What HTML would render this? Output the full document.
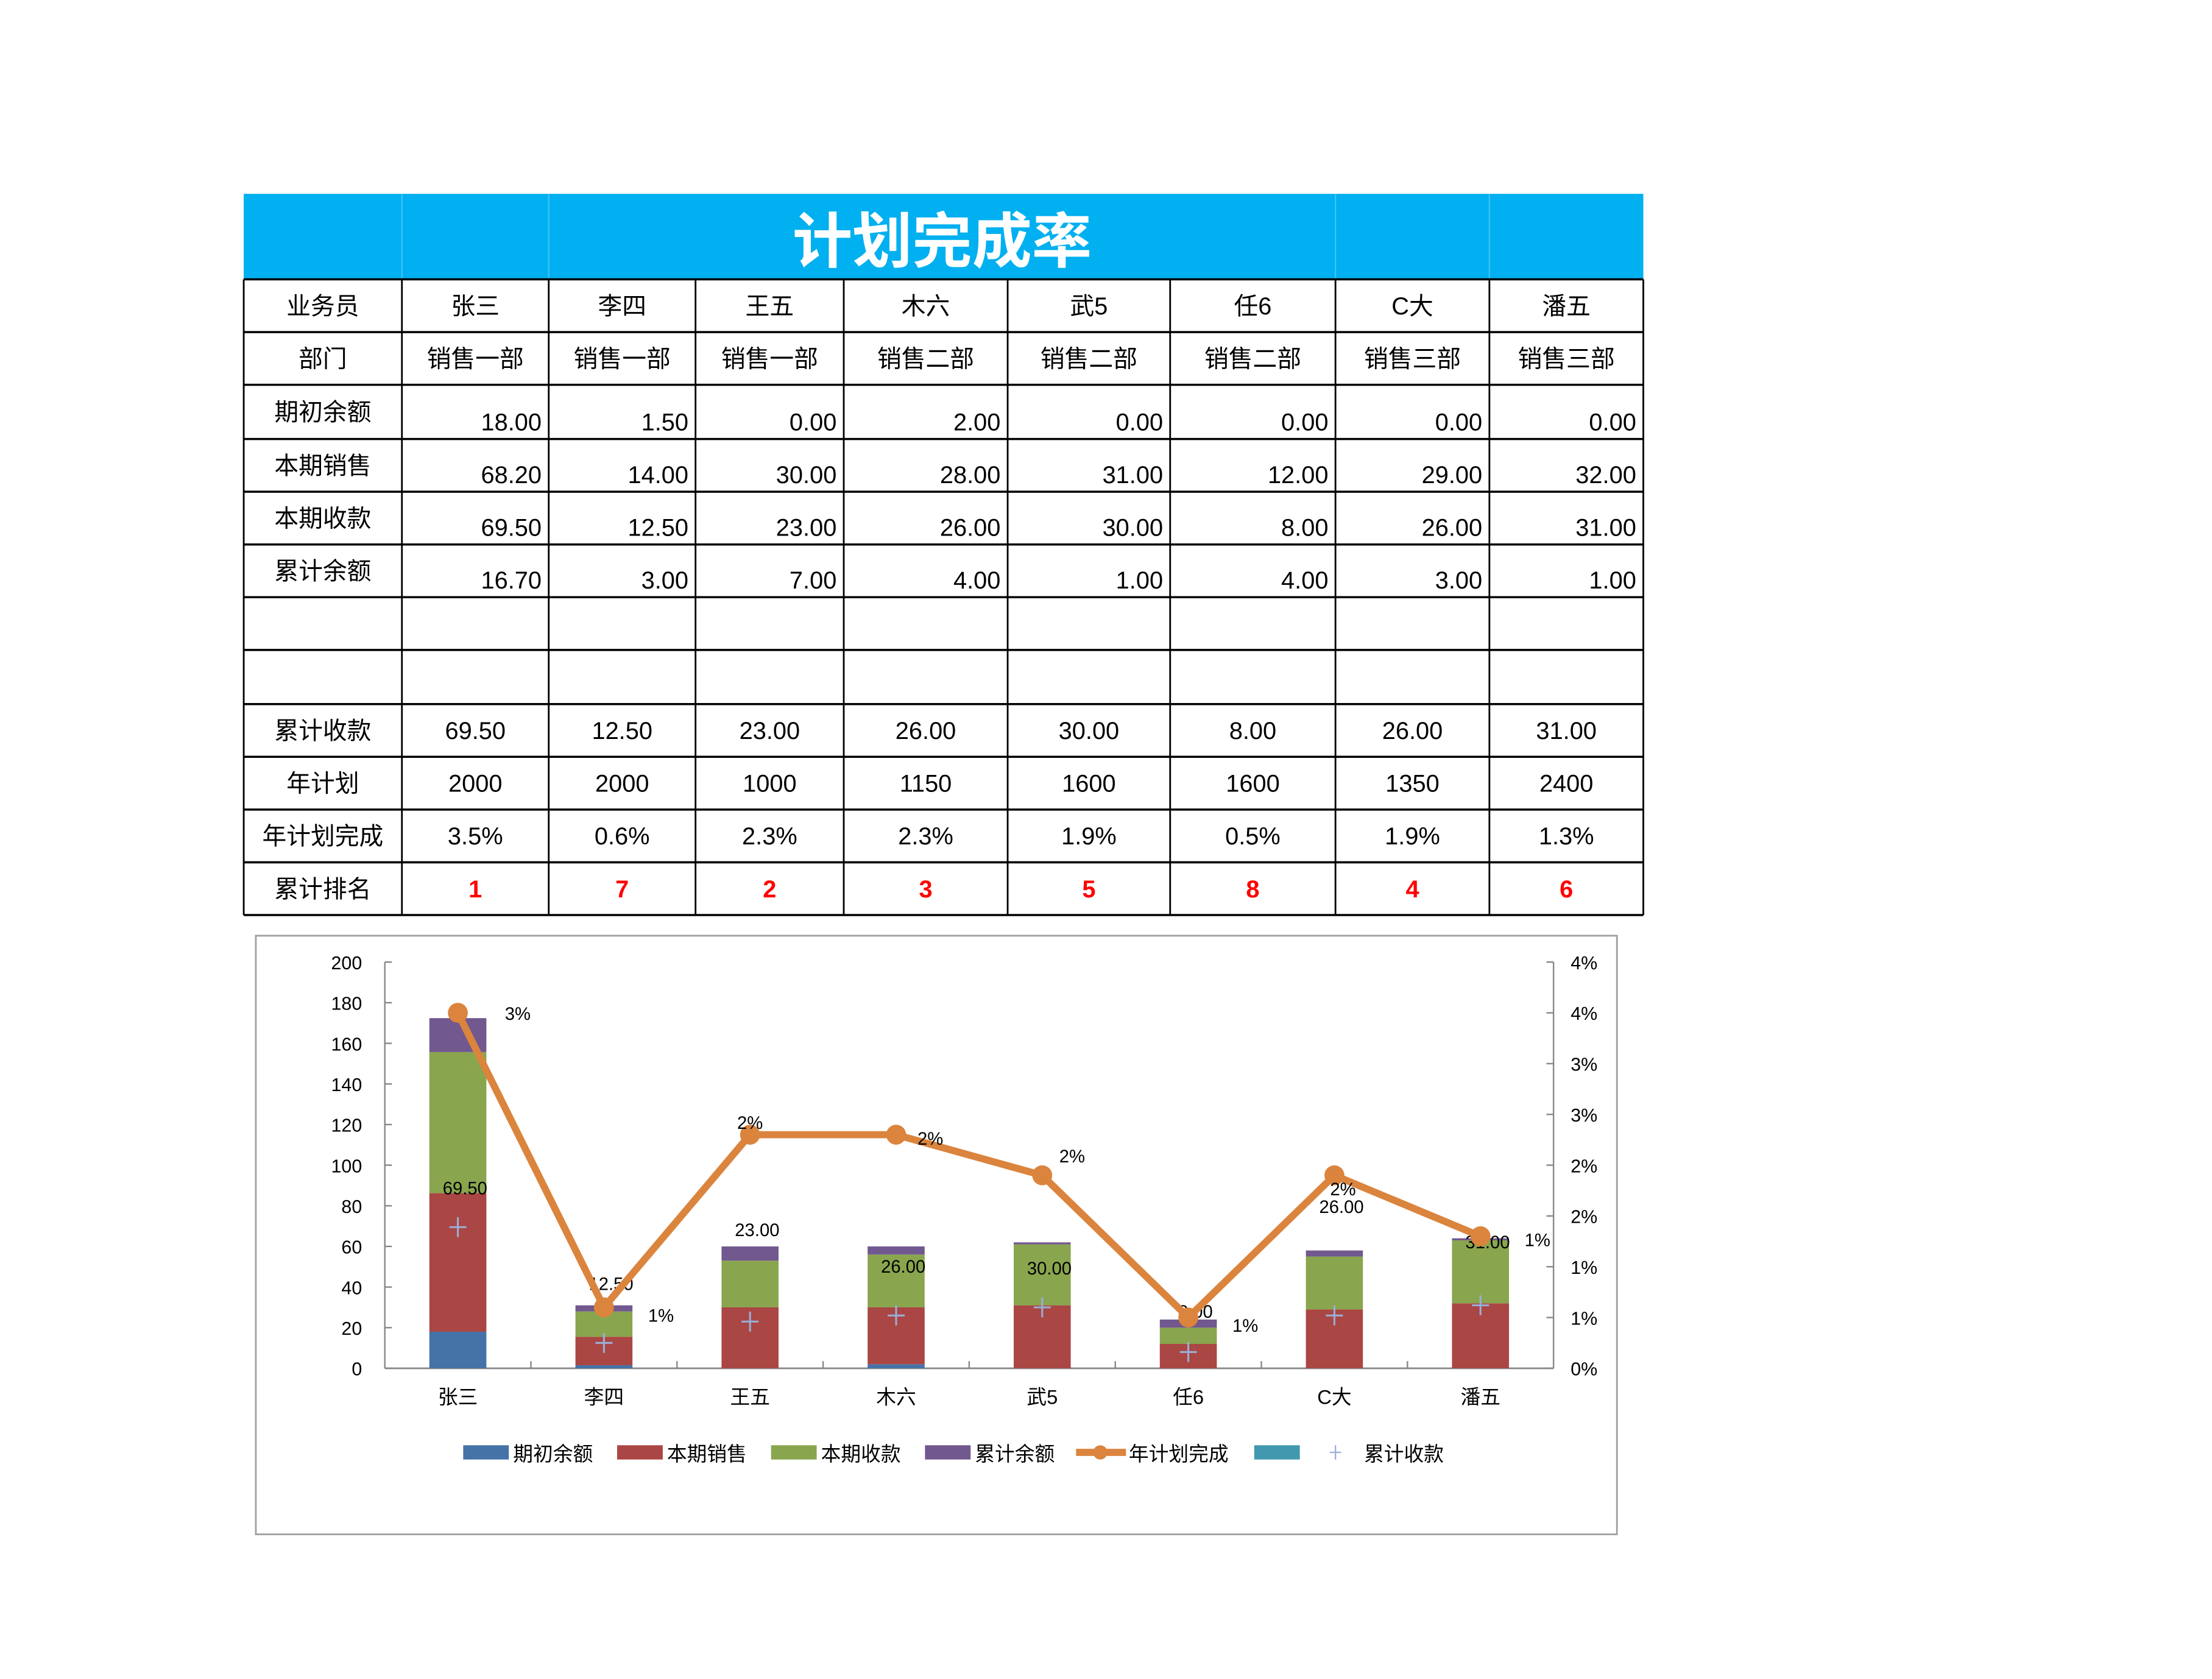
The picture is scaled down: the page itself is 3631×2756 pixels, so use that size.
<!DOCTYPE html>
<html><head><meta charset="utf-8">
<style>
html,body{margin:0;padding:0;background:#fff;}
svg{display:block;}
text{font-family:"Liberation Sans","Noto Sans CJK SC",sans-serif;}
</style></head>
<body>
<svg id="root" xmlns="http://www.w3.org/2000/svg" width="3631" height="2756" viewBox="0 0 1552 1178">
<g id="table"></g>
<g id="chart"></g>
</svg>
<script>
const NS='http://www.w3.org/2000/svg';
const people=['张三','李四','王五','木六','武5','任6','C大','潘五'];
const depts=['销售一部','销售一部','销售一部','销售二部','销售二部','销售二部','销售三部','销售三部'];
const openBal=[18,1.5,0,2,0,0,0,0];
const sales=[68.2,14,30,28,31,12,29,32];
const receipts=[69.5,12.5,23,26,30,8,26,31];
const balance=[16.7,3,7,4,1,4,3,1];
const cumReceipts=[69.5,12.5,23,26,30,8,26,31];
const yearPlan=[2000,2000,1000,1150,1600,1600,1350,2400];
const completion=[3.5,0.6,2.3,2.3,1.9,0.5,1.9,1.3];
const ranks=[1,7,2,3,5,8,4,6];
const leftTicks=[0,20,40,60,80,100,120,140,160,180,200];
const rightTickVals=[0,0.5,1,1.5,2,2.5,3,3.5,4];
const rightTickLabels=['0%','1%','1%','2%','2%','3%','3%','4%','4%'];
const pctLabels=['3%','1%','2%','2%','2%','1%','2%','1%'];
const cumLabelOffset=[27,41,64,34,27,28,76,44];
const pctLabelPos=[[42,1],[40,6],[0,-8],[24,3],[21,-13],[40,6],[6,10],[40,3]];

function el(tag,attrs,parent,txt){const e=document.createElementNS(NS,tag);for(const k in attrs)e.setAttribute(k,attrs[k]);if(txt!==undefined)e.textContent=txt;parent.appendChild(e);return e;}

// TABLE
const T=document.getElementById('table');
const cols=[171,282,385,488,592,707,821,937,1045,1153];
const rows=[196,233,270,308,345,382,419,456,494,531,568,605,642];
let r=el('rect',{x:171,y:136,width:982,height:60,fill:'#00B0F0'},T);

[282,385,937,1045].forEach(x=>el('line',{x1:x,y1:136,x2:x,y2:196,stroke:'#3cc4f5','stroke-width':1},T));
let tt=el('text',{x:661,y:184,'text-anchor':'middle','font-size':42,'font-weight':'bold',fill:'#fff'},T,'计划完成率');

rows.forEach(y=>el('line',{x1:171,y1:y,x2:1153,y2:y,stroke:'#000','stroke-width':1.5},T));
cols.forEach(x=>el('line',{x1:x,y1:196,x2:x,y2:642,stroke:'#000','stroke-width':1.2},T));
const labels=['业务员','部门','期初余额','本期销售','本期收款','累计余额','','','累计收款','年计划','年计划完成','累计排名'];
function cellText(ri,ci,txt,opts){
  const y0=rows[ri],y1=rows[ri+1];
  let x,anchor='middle',y=(y0+y1)/2+6;
  if(opts&&opts.right){x=cols[ci+1]-5;anchor='end';y=y1-6;}else x=(cols[ci]+cols[ci+1])/2;
  const t=el('text',{x:x,y:y,'text-anchor':anchor,'font-size':17,fill:(opts&&opts.color)||'#000','font-weight':(opts&&opts.bold)?'bold':'normal'},T,txt);
  
}
labels.forEach((l,i)=>{if(l)cellText(i,0,l,{});});
people.forEach((p,i)=>{
  cellText(0,i+1,p,{});cellText(1,i+1,depts[i],{});
  cellText(2,i+1,openBal[i].toFixed(2),{right:1});
  cellText(3,i+1,sales[i].toFixed(2),{right:1});
  cellText(4,i+1,receipts[i].toFixed(2),{right:1});
  cellText(5,i+1,balance[i].toFixed(2),{right:1});
  cellText(8,i+1,cumReceipts[i].toFixed(2),{});
  cellText(9,i+1,String(yearPlan[i]),{});
  cellText(10,i+1,completion[i].toFixed(1)+'%',{});
  cellText(11,i+1,String(ranks[i]),{color:'#FF0000',bold:1});
});

// CHART
const C=document.getElementById('chart');
let box=el('rect',{x:179.5,y:656.5,width:955,height:420,fill:'#fff',stroke:'#a0a0a0','stroke-width':1.2},C);

const pl=270,pr=1090,pb=960,pt=675;
const yL=v=>pb-(v/200)*(pb-pt);
const yR=v=>pb-(v/4)*(pb-pt);
const step=(pr-pl)/people.length;
const xC=i=>pl+step*(i+0.5);
const bw=40;
// axes
el('line',{x1:pl,y1:pt,x2:pl,y2:pb,stroke:'#868686','stroke-width':1},C);
el('line',{x1:pr,y1:pt,x2:pr,y2:pb,stroke:'#868686','stroke-width':1},C);
el('line',{x1:pl,y1:pb,x2:pr,y2:pb,stroke:'#868686','stroke-width':1.2},C);
leftTicks.forEach(v=>{el('line',{x1:pl,y1:yL(v),x2:pl+5,y2:yL(v),stroke:'#868686'},C);
  const t=el('text',{x:254,y:yL(v)+5,'text-anchor':'end','font-size':13},C,String(v));
  });
rightTickVals.forEach((v,i)=>{el('line',{x1:pr-5,y1:yR(v),x2:pr,y2:yR(v),stroke:'#868686'},C);
  const t=el('text',{x:1102,y:yR(v)+5,'font-size':13},C,rightTickLabels[i]);
  });
for(let i=1;i<people.length;i++)el('line',{x1:pl+step*i,y1:pb,x2:pl+step*i,y2:pb-5,stroke:'#868686'},C);
// bars
const series=[openBal,sales,receipts,balance];
const colors=['#4572A7','#AA4643','#89A54E','#71588F'];
const sNames=['bar-opening','bar-sales','bar-receipts','bar-balance'];
people.forEach((p,i)=>{
  let base=0;
  series.forEach((s,k)=>{
    const v=s[i];if(v<=0)return;
    const b=el('rect',{x:xC(i)-bw/2,y:yL(base+v),width:bw,height:yL(base)-yL(base+v),fill:colors[k]},C);
    
    base+=v;
  });
  const xl=el('text',{x:xC(i),y:985,'text-anchor':'middle','font-size':14},C,p);
  
});
// plus markers + labels
people.forEach((p,i)=>{
  const x=xC(i),y=yL(cumReceipts[i]);
  const g=el('path',{d:`M${x-6} ${y}H${x+6}M${x} ${y-7}V${y+7}`,stroke:'#9aaed8','stroke-width':1.3,fill:'none'},C);
  
  const t=el('text',{x:x+5,y:y-cumLabelOffset[i]+4,'text-anchor':'middle','font-size':12.5},C,cumReceipts[i].toFixed(2));
  
});
// line
let d='';people.forEach((p,i)=>{d+=(i?'L':'M')+xC(i)+' '+yR(completion[i]);});
const ln=el('path',{d:d,stroke:'#DB843D','stroke-width':5,fill:'none','stroke-linejoin':'round'},C);

people.forEach((p,i)=>{
  const c=el('circle',{cx:xC(i),cy:yR(completion[i]),r:7,fill:'#DB843D'},C);
  
  const t=el('text',{x:xC(i)+pctLabelPos[i][0],y:yR(completion[i])+pctLabelPos[i][1]+4,'font-size':12.5,'text-anchor':'middle'},C,pctLabels[i]);
  
});
// legend
const leg=el('g',{},C);
const legItems=[['box','#4572A7','期初余额',325],['box','#AA4643','本期销售',433],['box','#89A54E','本期收款',541],['box','#71588F','累计余额',649],['line','#DB843D','年计划完成',755],['box','#4198AF','',880],['plus','#9aaed8','累计收款',928]];
legItems.forEach(it=>{
  const g=el('g',{},leg);
  const x=it[3],y=1019;
  if(it[0]==='box')el('rect',{x:x,y:y-5,width:32,height:10,fill:it[1]},g);
  else if(it[0]==='line'){el('line',{x1:x,y1:y,x2:x+35,y2:y,stroke:it[1],'stroke-width':5},g);el('circle',{cx:x+17,cy:y,r:5,fill:it[1]},g);}
  else el('path',{d:`M${x+5} ${y}H${x+13}M${x+9} ${y-5}V${y+5}`,stroke:it[1],fill:'none'},g);
  if(it[2])el('text',{x:it[0]==='plus'?x+29:(it[0]==='line'?x+37:x+35),y:y+6,'font-size':14},g,it[2]);
});
</script>
</body></html>
